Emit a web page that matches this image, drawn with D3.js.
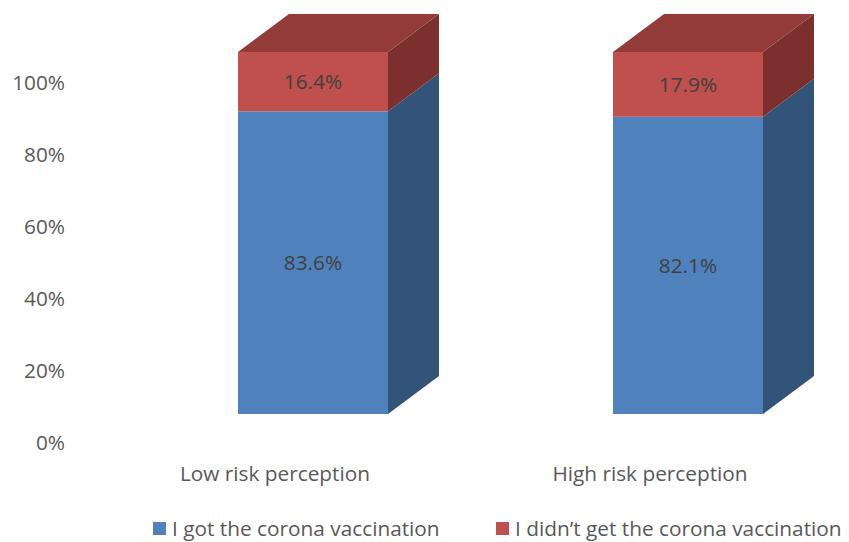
<!DOCTYPE html>
<html><head><meta charset="utf-8">
<script src="https://cdn.jsdelivr.net/npm/d3@7"></script>
<style>body{margin:0;background:#fff}svg{display:block}text{font-family:"Open Sans",sans-serif}</style>
</head><body><svg id="c" width="849" height="542"></svg>
<script>
const categories = ["Low risk perception", "High risk perception"];
const seriesNames = ["I got the corona vaccination", "I didn’t get the corona vaccination"];
const vaccinated = [83.6, 82.1];
const notVaccinated = [16.4, 17.9];
const tickValues = [0, 20, 40, 60, 80, 100];

const colors = [
  {front:"#4F81BD", side:"#325479", top:"#3E6697"},
  {front:"#C0504D", side:"#7B302E", top:"#923B39"}
];
const FS = 20.8;
const svg = d3.select("#c");
const W = 150, DX = 51, DY = -38;
const x = d3.scalePoint().domain(categories).range([313, 688]);
const y = d3.scaleLinear().domain([0, 100]).range([414, 52]);
const yAxisScale = d3.scaleLinear().domain([0, 100]).range([443, 83]);

// y axis labels
svg.append("g").selectAll("text").data(tickValues).join("text")
  .attr("x", 65).attr("y", d => yAxisScale(d)).attr("dy", "0.35em")
  .attr("text-anchor", "end").attr("font-size", FS).attr("fill", "#595959")
  .text(d => d + "%");

const stackData = categories.map((c, i) => ({cat: c, vals: [vaccinated[i], notVaccinated[i]]}));
const g = svg.append("g");
stackData.forEach(d => {
  const x0 = x(d.cat) - W/2, x1 = x0 + W;
  let base = 0;
  d.vals.forEach((v, si) => {
    const yb = y(base), yt = y(base + v);
    const col = colors[si];
    g.append("path").attr("fill", col.side)
      .attr("d", `M${x1},${yb}L${x1+DX},${yb+DY}L${x1+DX},${yt+DY}L${x1},${yt}Z`);
    g.append("rect").attr("x", x0).attr("y", yt).attr("width", W).attr("height", yb - yt).attr("fill", col.front);
    if (si === d.vals.length - 1) {
      g.append("path").attr("fill", col.top)
        .attr("d", `M${x0},${yt}L${x0+DX},${yt+DY}L${x1+DX},${yt+DY}L${x1},${yt}Z`);
    }
    g.append("text").attr("x", x(d.cat)).attr("y", (yb + yt)/2).attr("dy", "0.35em")
      .attr("text-anchor", "middle").attr("font-size", FS).attr("fill", "#404040")
      .text(v.toFixed(1) + "%");
    base += v;
  });
});

// category labels
svg.append("g").selectAll("text").data(categories).join("text")
  .attr("x", d => x(d) - 38).attr("y", 474).attr("dy", "0.35em")
  .attr("text-anchor", "middle").attr("font-size", FS).attr("fill", "#595959")
  .text(d => d);

// legend
const legX = [153, 496];
const lg = svg.append("g").selectAll("g").data(seriesNames).join("g")
  .attr("transform", (d, i) => `translate(${legX[i]},0)`);
lg.append("rect").attr("x", 0).attr("y", 522).attr("width", 13).attr("height", 13)
  .attr("fill", (d, i) => colors[i].front);
lg.append("text").attr("x", 19).attr("y", 529).attr("dy", "0.35em")
  .attr("font-size", FS).attr("fill", "#595959").text(d => d);
</script></body></html>
